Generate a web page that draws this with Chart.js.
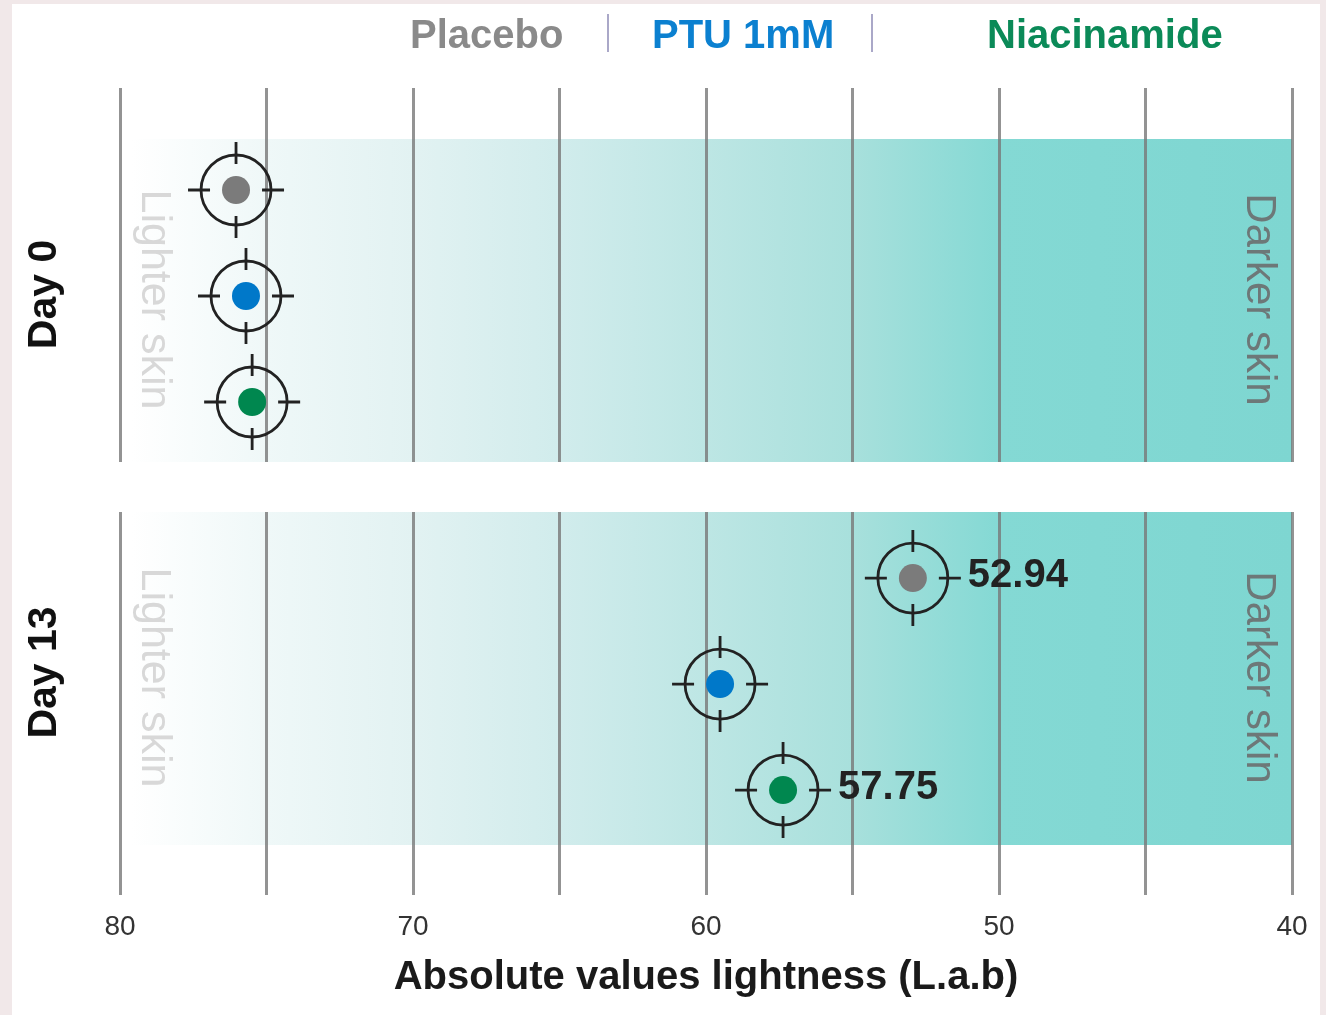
<!DOCTYPE html>
<html>
<head>
<meta charset="utf-8">
<title>Absolute values lightness</title>
<script src="https://cdn.jsdelivr.net/npm/chart.js@4.4.0/dist/chart.umd.min.js"></script>
<style>
  html, body { margin: 0; padding: 0; }
  body { width: 1326px; height: 1015px; background: #f1e8e9; position: relative; overflow: hidden; }
  #sheet { position: absolute; left: 12px; top: 4px; width: 1308px; height: 1011px; background: #fff; }
  canvas { position: absolute; left: 0; }
  #day0Chart { top: 0; }
  #day13Chart { top: 480px; }
</style>
</head>
<body>
<div id="sheet"></div>
<canvas id="day0Chart" width="1326" height="480"></canvas>
<canvas id="day13Chart" width="1326" height="535"></canvas>

<script>
// data
const treatments = ['Placebo', 'PTU 1mM', 'Niacinamide'];
const dayLabels = ['Day 0', 'Day 13'];
const day0Values = [76.04, 75.70, 75.49];
const day13Values = [52.94, 59.52, 57.37];
const day0Labels = ['', '', ''];
const day13Labels = ['52.94', '', '57.75'];
const xTickLabels = [80, 70, 60, 50, 40];

// colours
const dotColors = ['#7b7b7b', '#0078c9', '#00874f'];
const legendColors = ['#8a8a8a', '#0b80d0', '#0b8a58'];
const FONT = "'Liberation Sans', Arial, sans-serif";

// band gradient (value -> colour)
const bandStops = [
  [79.6, '#ffffff'], [75, '#eff8f8'], [70, '#e2f2f2'], [65, '#d1ecec'],
  [60, '#bde6e4'], [55, '#a8e0dc'], [50, '#84d9d4'], [40, '#7ed6d1']
];

const skinPanel = {
  id: 'skinPanel',
  beforeDraw(chart, args, opts) {
    const ctx = chart.ctx;
    const area = chart.chartArea;
    const xs = chart.scales.x;
    const top = area.top + opts.bandTop;
    const bottom = area.bottom - opts.bandBottom;
    const left = area.left + 5;
    const g = ctx.createLinearGradient(area.left, 0, area.right, 0);
    bandStops.forEach(([v, c]) => {
      const f = (xs.getPixelForValue(v) - area.left) / (area.right - area.left);
      g.addColorStop(Math.min(1, Math.max(0, f)), c);
    });
    ctx.save();
    ctx.fillStyle = g;
    ctx.fillRect(left, top, area.right - left, bottom - top);

    const mid = (top + bottom) / 2;
    // Lighter / Darker skin
    ctx.font = '43px ' + FONT;
    ctx.textAlign = 'center';
    ctx.textBaseline = 'middle';
    ctx.fillStyle = '#d8d8d8';
    ctx.save();
    ctx.translate(area.left + 34, mid - 1);
    ctx.rotate(Math.PI / 2);
    ctx.fillText('Lighter skin', 0, 0);
    ctx.restore();
    ctx.fillStyle = '#6d7878';
    ctx.font = '42px ' + FONT;
    ctx.save();
    ctx.translate(area.right - 33, mid - 1);
    ctx.rotate(Math.PI / 2);
    ctx.fillText('Darker skin', 0, 0);
    ctx.restore();

    // Day label
    ctx.fillStyle = '#111';
    ctx.font = 'bold 41px ' + FONT;
    ctx.save();
    ctx.translate(45, mid - 6);
    ctx.rotate(-Math.PI / 2);
    ctx.fillText(opts.day, 0, 0);
    ctx.restore();

    if (opts.legend) {
      ctx.font = 'bold 40px ' + FONT;
      ctx.textAlign = 'left';
      ctx.textBaseline = 'alphabetic';
      const lx = [410, 652, 987];
      treatments.forEach((t, i) => {
        ctx.fillStyle = legendColors[i];
        ctx.fillText(t, lx[i], 48);
      });
      ctx.strokeStyle = '#aaa8c8';
      ctx.lineWidth = 2;
      [608, 872].forEach(x => {
        ctx.beginPath();
        ctx.moveTo(x, 14);
        ctx.lineTo(x, 52);
        ctx.stroke();
      });
    }
    ctx.restore();
  },
  afterDatasetsDraw(chart, args, opts) {
    const ctx = chart.ctx;
    ctx.save();
    ctx.strokeStyle = '#222';
    ctx.lineWidth = 2.8;
    chart.data.datasets.forEach((ds, i) => {
      chart.getDatasetMeta(i).data.forEach(pt => {
        const x = pt.x, y = pt.y;
        ctx.beginPath();
        ctx.arc(x, y, 35, 0, Math.PI * 2);
        ctx.stroke();
        ctx.beginPath();
        [[1, 0], [-1, 0], [0, 1], [0, -1]].forEach(([dx, dy]) => {
          ctx.moveTo(x + dx * 26, y + dy * 26);
          ctx.lineTo(x + dx * 48, y + dy * 48);
        });
        ctx.stroke();
        const label = opts.labels[i];
        if (label) {
          ctx.fillStyle = '#222';
          ctx.font = 'bold 40px ' + FONT;
          ctx.textAlign = 'left';
          ctx.textBaseline = 'alphabetic';
          ctx.fillText(label, x + 55, y + 9);
        }
      });
    });
    ctx.restore();
  }
};

function makeDatasets(values) {
  return treatments.map((t, i) => ({
    label: t,
    data: [{ x: values[i], y: i }],
    backgroundColor: dotColors[i],
    borderWidth: 0,
    pointRadius: 14,
    pointHoverRadius: 14
  }));
}

function xScale(showTicks, axisHeight) {
  return {
    type: 'linear',
    min: Math.min(...xTickLabels),
    max: Math.max(...xTickLabels),
    reverse: true,
    border: { display: false },
    grid: { color: 'rgba(120,120,120,0.8)', lineWidth: 3, drawTicks: false },
    ticks: {
      display: showTicks,
      stepSize: 5,
      padding: 15,
      color: '#333',
      font: { family: FONT, size: 28 },
      maxRotation: 0,
      callback: v => (xTickLabels.includes(v) ? String(v) : '')
    },
    title: {
      display: showTicks,
      text: 'Absolute values lightness (L.a.b)',
      color: '#1a1a1a',
      font: { family: FONT, size: 40, weight: 'bold' },
      padding: { top: 0, bottom: 13 }
    },
    afterFit: s => { s.height = axisHeight; }
  };
}

function makeChart(id, values, labels, day, yMin, yMax, padTop, padBottom, axisHeight, opts) {
  return new Chart(document.getElementById(id), {
    type: 'scatter',
    data: { datasets: makeDatasets(values) },
    options: {
      responsive: false,
      animation: false,
      events: [],
      layout: { padding: { left: 120, right: 34, top: padTop, bottom: padBottom } },
      plugins: {
        legend: { display: false },
        tooltip: { enabled: false },
        skinPanel: Object.assign({ day: day, labels: labels }, opts)
      },
      scales: {
        x: xScale(axisHeight > 0, axisHeight),
        y: { type: 'linear', display: false, reverse: true, min: yMin, max: yMax }
      }
    },
    plugins: [skinPanel]
  });
}

makeChart('day0Chart', day0Values, day0Labels, dayLabels[0], -0.962, 2.566, 88, 18, 0,
  { bandTop: 51, bandBottom: 0, legend: true });
makeChart('day13Chart', day13Values, day13Labels, dayLabels[1], -0.623, 2.99, 32, 0, 120,
  { bandTop: 0, bandBottom: 50, legend: false });
</script>
</body>
</html>
